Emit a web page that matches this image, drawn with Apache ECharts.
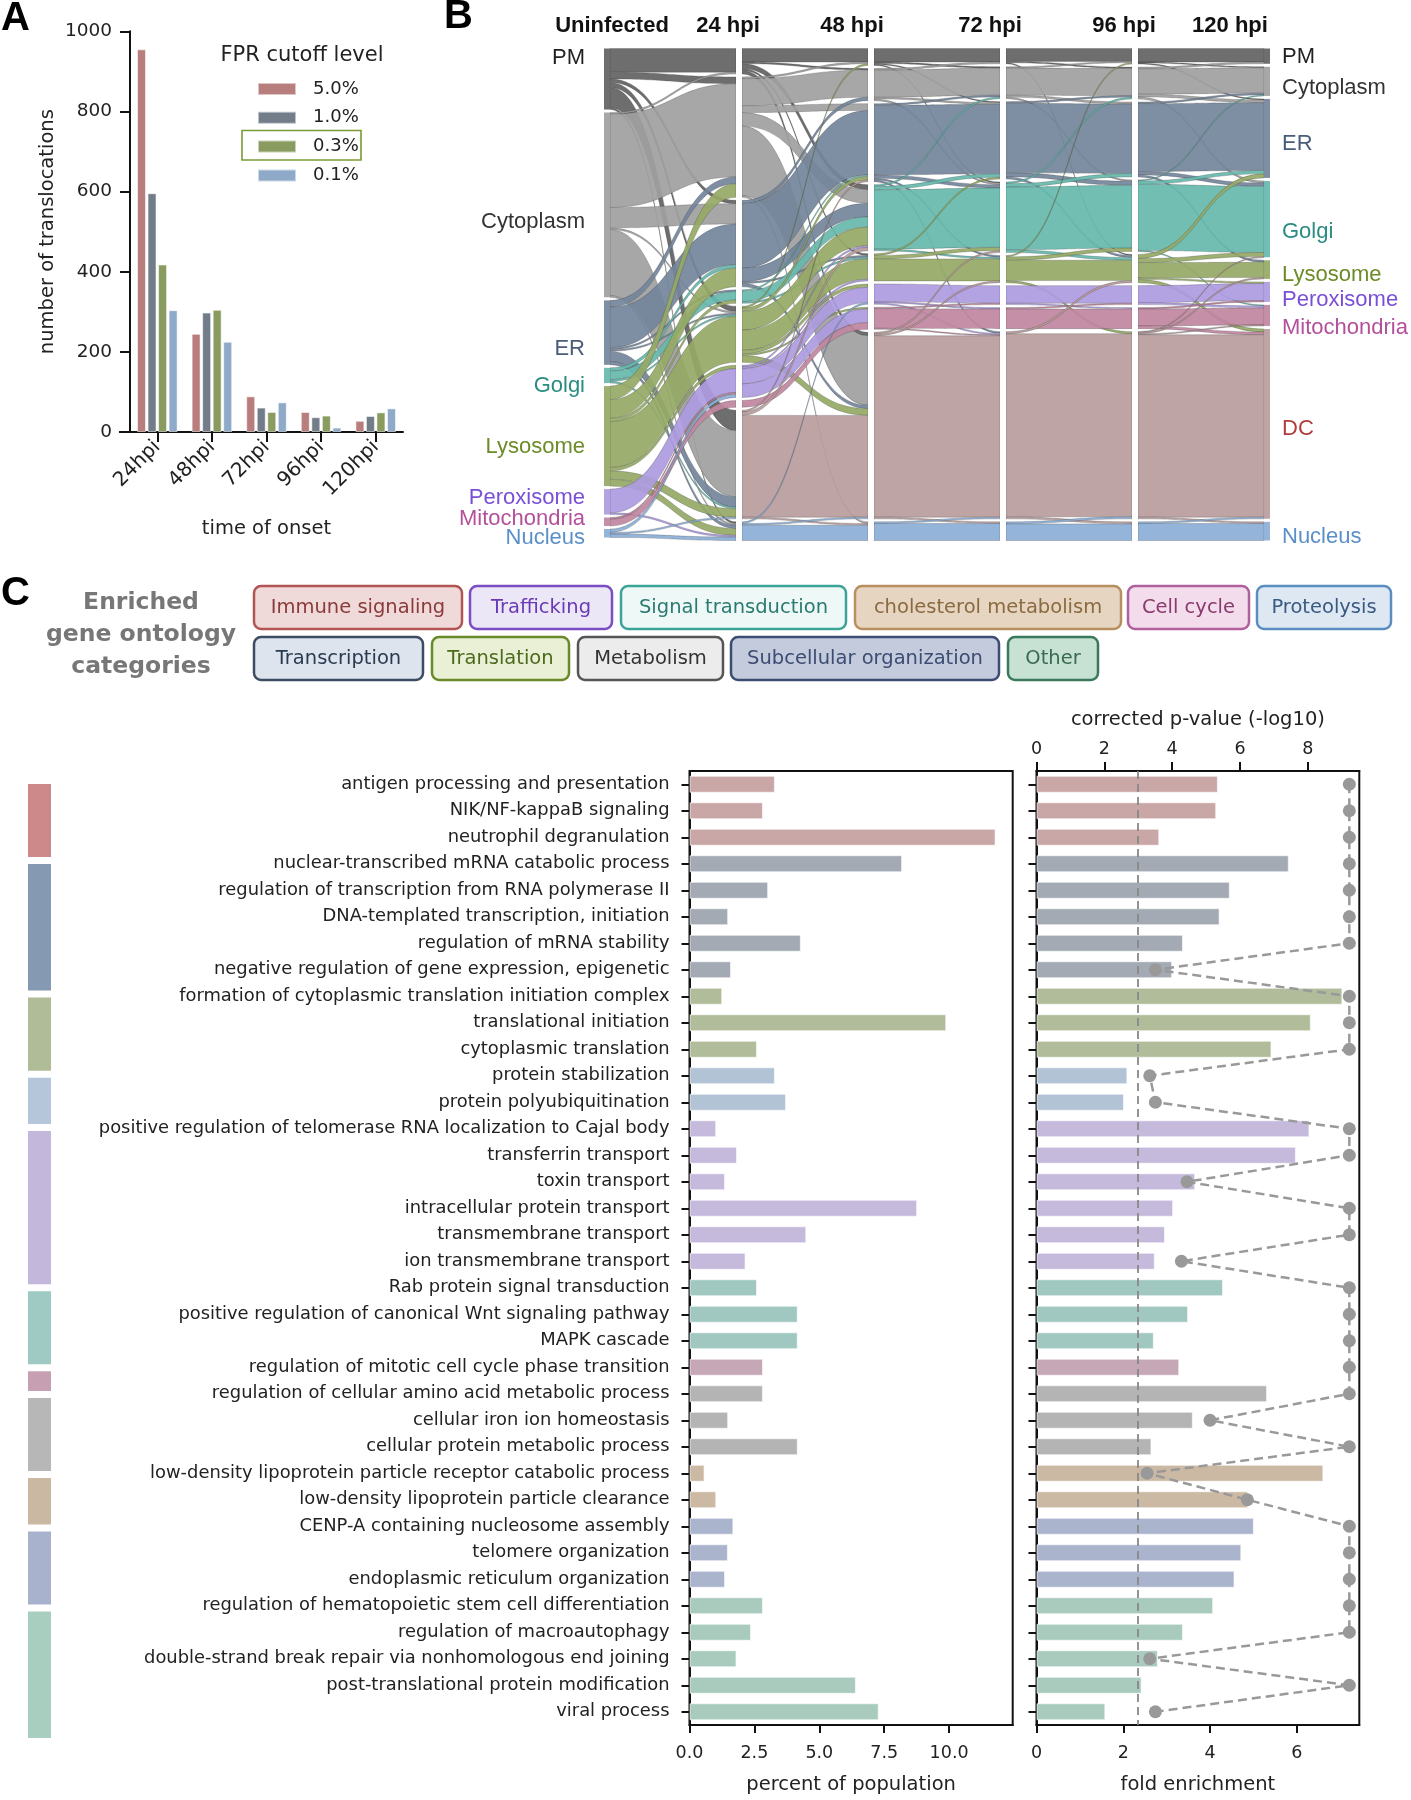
<!DOCTYPE html>
<html><head><meta charset="utf-8">
<script src="https://cdn.jsdelivr.net/npm/echarts@6/dist/echarts.min.js"></script>
<style>html,body{margin:0;padding:0;background:#fff}#c{width:1411px;height:1800px}</style>
</head><body><div id="c"></div><script>
const FONT = "'DejaVu Sans', sans-serif";
const ARIAL = "'Liberation Sans', Arial, sans-serif";

// ---------------- Panel A data ----------------
const onsetCategories = ['24hpi', '48hpi', '72hpi', '96hpi', '120hpi'];
const fprLevels = ['5.0%', '1.0%', '0.3%', '0.1%'];
const fpr50 = [955, 245, 89, 50, 28];
const fpr10 = [596, 298, 61, 37, 40];
const fpr03 = [418, 305, 50, 41, 49];
const fpr01 = [304, 225, 74, 11, 59];
const fprColors = ['#b87e7e', '#737d8a', '#8a9b60', '#8eaac8'];

// ---------------- Panel B data ----------------
const timepoints = ['Uninfected', '24 hpi', '48 hpi', '72 hpi', '96 hpi', '120 hpi'];
const compartments = ['PM', 'Cytoplasm', 'ER', 'Golgi', 'Lysosome', 'Peroxisome', 'Mitochondria', 'DC', 'Nucleus'];
const flowsUninfTo24 = [
  ['PM','PM',70],['PM','Cytoplasm',20],['PM','ER',10],['PM','Lysosome',15],['PM','DC',60],['PM','Nucleus',5],
  ['Cytoplasm','PM',5],['Cytoplasm','Cytoplasm',275],['Cytoplasm','ER',60],['Cytoplasm','Lysosome',5],['Cytoplasm','DC',195],['Cytoplasm','Nucleus',5],
  ['ER','Cytoplasm',20],['ER','ER',120],['ER','Golgi',5],['ER','Lysosome',5],['ER','DC',30],['ER','Nucleus',10],
  ['Golgi','ER',10],['Golgi','Golgi',25],['Golgi','Lysosome',5],['Golgi','DC',5],
  ['Lysosome','Cytoplasm',40],['Lysosome','ER',55],['Lysosome','Golgi',10],['Lysosome','Lysosome',135],['Lysosome','Peroxisome',10],['Lysosome','DC',25],['Lysosome','Nucleus',20],
  ['Peroxisome','Peroxisome',70],['Peroxisome','Nucleus',5],
  ['Mitochondria','Peroxisome',5],['Mitochondria','Mitochondria',20],
  ['Nucleus','Peroxisome',10],['Nucleus','DC',5],['Nucleus','Nucleus',10]
];
const flows24To48 = [
  ['PM','PM',40],['PM','Cytoplasm',5],['PM','Golgi',15],['PM','Lysosome',5],['PM','DC',10],
  ['Cytoplasm','PM',5],['Cytoplasm','Cytoplasm',80],['Cytoplasm','ER',20],['Cytoplasm','Golgi',40],['Cytoplasm','DC',205],['Cytoplasm','Nucleus',5],
  ['ER','Cytoplasm',10],['ER','ER',190],['ER','Golgi',40],['ER','Lysosome',5],['ER','DC',10],
  ['Golgi','ER',5],['Golgi','Golgi',30],['Golgi','Lysosome',5],
  ['Lysosome','PM',5],['Lysosome','ER',10],['Lysosome','Golgi',55],['Lysosome','Lysosome',60],['Lysosome','Peroxisome',10],['Lysosome','Mitochondria',5],['Lysosome','DC',20],
  ['Peroxisome','Golgi',5],['Peroxisome','Lysosome',5],['Peroxisome','Peroxisome',45],['Peroxisome','Mitochondria',40],
  ['Mitochondria','Mitochondria',20],
  ['DC','ER',5],['DC','Golgi',10],['DC','DC',300],['DC','Nucleus',5],
  ['Nucleus','Peroxisome',5],['Nucleus','DC',5],['Nucleus','Nucleus',45]
];
const flows48To72 = [
  ['PM','PM',40],['PM','Cytoplasm',4],['PM','ER',3],['PM','Golgi',3],
  ['Cytoplasm','PM',5],['Cytoplasm','Cytoplasm',80],['Cytoplasm','ER',5],['Cytoplasm','Golgi',5],
  ['ER','Cytoplasm',5],['ER','ER',205],['ER','Golgi',10],['ER','Lysosome',5],['ER','DC',5],
  ['Golgi','Cytoplasm',5],['Golgi','ER',10],['Golgi','Golgi',175],['Golgi','Lysosome',5],
  ['Lysosome','ER',5],['Lysosome','Golgi',10],['Lysosome','Lysosome',65],
  ['Peroxisome','Peroxisome',52],['Peroxisome','Mitochondria',4],['Peroxisome','DC',4],
  ['Mitochondria','Peroxisome',4],['Mitochondria','Mitochondria',58],['Mitochondria','DC',3],
  ['DC','Golgi',5],['DC','Lysosome',5],['DC','DC',535],['DC','Nucleus',5],
  ['Nucleus','DC',5],['Nucleus','Nucleus',50]
];
const flows72To96 = [
  ['PM','PM',38],['PM','Cytoplasm',4],['PM','Lysosome',3],
  ['Cytoplasm','PM',4],['Cytoplasm','Cytoplasm',80],['Cytoplasm','ER',6],['Cytoplasm','Golgi',4],
  ['ER','Cytoplasm',5],['ER','ER',205],['ER','Golgi',12],['ER','Lysosome',6],
  ['Golgi','Cytoplasm',5],['Golgi','ER',10],['Golgi','Golgi',185],['Golgi','Lysosome',8],
  ['Lysosome','PM',4],['Lysosome','Golgi',10],['Lysosome','Lysosome',60],['Lysosome','DC',6],
  ['Peroxisome','Peroxisome',52],['Peroxisome','Mitochondria',4],
  ['Mitochondria','Peroxisome',4],['Mitochondria','Mitochondria',58],
  ['DC','Lysosome',6],['DC','DC',540],['DC','Nucleus',6],
  ['Nucleus','DC',6],['Nucleus','Nucleus',49]
];
const flows96To120 = [
  ['PM','PM',40],['PM','Cytoplasm',3],['PM','ER',3],
  ['Cytoplasm','PM',5],['Cytoplasm','Cytoplasm',75],['Cytoplasm','ER',8],['Cytoplasm','Golgi',6],
  ['ER','Cytoplasm',5],['ER','ER',200],['ER','Golgi',10],['ER','Lysosome',6],
  ['Golgi','Cytoplasm',3],['Golgi','ER',10],['Golgi','Golgi',195],['Golgi','Mitochondria',3],
  ['Lysosome','ER',12],['Lysosome','Golgi',12],['Lysosome','Lysosome',45],['Lysosome','Peroxisome',5],['Lysosome','DC',9],
  ['Peroxisome','Peroxisome',50],['Peroxisome','Mitochondria',6],
  ['Mitochondria','Peroxisome',4],['Mitochondria','Mitochondria',50],['Mitochondria','DC',8],
  ['DC','Golgi',2],['DC','Lysosome',4],['DC','Mitochondria',3],['DC','DC',538],['DC','Nucleus',5],
  ['Nucleus','DC',5],['Nucleus','Nucleus',50]
];
const flowTables = [flowsUninfTo24, flows24To48, flows48To72, flows72To96, flows96To120];
const compartmentFlowColor = {PM:'#626262', Cytoplasm:'#a0a0a0', ER:'#74869b', Golgi:'#66b8ad', Lysosome:'#95a966', Peroxisome:'#ae9be0', Mitochondria:'#c0869f', DC:'#b89c9c', Nucleus:'#8baed6'};
const compartmentLabelColor = {PM:'#222', Cytoplasm:'#333', ER:'#4a5d78', Golgi:'#2a8c82', Lysosome:'#6c8c28', Peroxisome:'#7a4fd6', Mitochondria:'#b4509b', DC:'#b03c3c', Nucleus:'#5a8fc8'};
const leftLabelOffset = {PM:-21, Cytoplasm:17, ER:16, Golgi:11, Lysosome:11, Peroxisome:-4, Mitochondria:-3, Nucleus:5};
const rightLabelOffset = {PM:1, Cytoplasm:7, ER:6, Golgi:13, Lysosome:5, Peroxisome:8, Mitochondria:13, DC:5, Nucleus:6};

// ---------------- Panel C data ----------------
const goTerms = [
  'antigen processing and presentation','NIK/NF-kappaB signaling','neutrophil degranulation',
  'nuclear-transcribed mRNA catabolic process','regulation of transcription from RNA polymerase II',
  'DNA-templated transcription, initiation','regulation of mRNA stability',
  'negative regulation of gene expression, epigenetic','formation of cytoplasmic translation initiation complex',
  'translational initiation','cytoplasmic translation','protein stabilization','protein polyubiquitination',
  'positive regulation of telomerase RNA localization to Cajal body','transferrin transport','toxin transport',
  'intracellular protein transport','transmembrane transport','ion transmembrane transport',
  'Rab protein signal transduction','positive regulation of canonical Wnt signaling pathway','MAPK cascade',
  'regulation of mitotic cell cycle phase transition','regulation of cellular amino acid metabolic process',
  'cellular iron ion homeostasis','cellular protein metabolic process',
  'low-density lipoprotein particle receptor catabolic process','low-density lipoprotein particle clearance',
  'CENP-A containing nucleosome assembly','telomere organization','endoplasmic reticulum organization',
  'regulation of hematopoietic stem cell differentiation','regulation of macroautophagy',
  'double-strand break repair via nonhomologous end joining','post-translational protein modification','viral process'
];
const percentPopulation = [3.29,2.83,11.79,8.19,3.03,1.49,4.29,1.60,1.26,9.89,2.60,3.29,3.72,1.03,1.83,1.37,8.77,4.50,2.16,2.60,4.17,4.17,2.83,2.83,1.49,4.17,0.58,1.03,1.69,1.48,1.37,2.83,2.37,1.81,6.41,7.29];
const pValueLog10 = [5.35,5.30,3.62,7.44,5.70,5.40,4.32,4.00,9.02,8.09,6.93,2.68,2.58,8.05,7.65,4.68,4.03,3.79,3.49,5.50,4.47,3.46,4.21,6.80,4.61,3.39,8.46,6.24,6.41,6.04,5.84,5.21,4.32,3.58,3.10,2.03];
const foldEnrichment = [7.21,7.21,7.21,7.21,7.21,7.21,7.21,2.74,7.21,7.21,7.21,2.61,2.74,7.21,7.21,3.47,7.21,7.21,3.34,7.21,7.21,7.21,7.21,7.21,4.00,7.21,2.55,4.86,7.21,7.21,7.21,7.21,7.21,2.61,7.21,2.74];
const pValueThreshold = 3;
const rowGroupOrder = ['Immune signaling','Transcription','Translation','Proteolysis','Trafficking','Signal transduction','Cell cycle','Metabolism','cholesterol metabolism','Subcellular organization','Other'];
const rowGroupSizes = [3,5,3,2,6,3,1,3,2,3,5];
const legendRow1 = ['Immune signaling','Trafficking','Signal transduction','cholesterol metabolism','Cell cycle','Proteolysis'];
const legendRow2 = ['Transcription','Translation','Metabolism','Subcellular organization','Other'];
const catStyle = {
  'Immune signaling':        {bar:'#c9a7a7', side:'#cd898a', fill:'#f0d9d9', stroke:'#b35454', text:'#8a3a3a'},
  'Trafficking':             {bar:'#c5badc', side:'#c4b7dc', fill:'#ece7f6', stroke:'#7b4dc4', text:'#6a3ab4'},
  'Signal transduction':     {bar:'#a1c7c1', side:'#9fcac4', fill:'#eef8f7', stroke:'#3aa597', text:'#2a7a70'},
  'cholesterol metabolism':  {bar:'#ccb9a4', side:'#cbb8a3', fill:'#e6d5c0', stroke:'#b89060', text:'#8a6a40'},
  'Cell cycle':              {bar:'#c5a7b6', side:'#c69fb3', fill:'#f3dded', stroke:'#b0609c', text:'#8a3a6c'},
  'Proteolysis':             {bar:'#b1c3d5', side:'#b5c6da', fill:'#dee8f3', stroke:'#5b8ec0', text:'#3a5a82'},
  'Transcription':           {bar:'#a3aab4', side:'#8599b3', fill:'#dde4ee', stroke:'#3c4c62', text:'#2a3a50'},
  'Translation':             {bar:'#b1bc9a', side:'#b0bb98', fill:'#e9f0d6', stroke:'#6a8a2a', text:'#4c6a1c'},
  'Metabolism':              {bar:'#b4b4b4', side:'#b7b7b7', fill:'#ececec', stroke:'#555555', text:'#333333'},
  'Subcellular organization':{bar:'#aab4cd', side:'#a8b2cd', fill:'#c4cbdc', stroke:'#3c4c72', text:'#3c4c72'},
  'Other':                   {bar:'#a9cbbd', side:'#a7cebf', fill:'#c7e1d3', stroke:'#3a7a5a', text:'#3a6a50'}
};

// ---------- derived ----------
const rowCategory = [];
rowGroupOrder.forEach((g, gi) => { for (let k = 0; k < rowGroupSizes[gi]; k++) rowCategory.push(g); });
const groupRanges = [];
{ let s = 0; rowGroupSizes.forEach((n, gi) => { groupRanges.push([0, s, s + n - 1, gi]); s += n; }); }

// sankey nodes/links
const nodeSet = [];
for (let t = 0; t < timepoints.length; t++) nodeSet.push(new Set());
flowTables.forEach((tbl, t) => tbl.forEach(([s, d]) => { nodeSet[t].add(s); nodeSet[t + 1].add(d); }));
const sankeyNodes = [];
const lastT = timepoints.length - 1;
for (let t = 0; t <= lastT; t++) {
  compartments.forEach(c => {
    if (!nodeSet[t].has(c)) return;
    const node = {name: c + '@' + t, depth: t};
    if (t === 0 || t === lastT) {
      node.itemStyle = {color: compartmentFlowColor[c], opacity: 0.92, borderWidth: 0};
      node.label = {
        show: true, position: t === 0 ? 'left' : 'right', distance: t === 0 ? 19 : 12,
        formatter: c, color: compartmentLabelColor[c], fontSize: 22, fontFamily: ARIAL,
        offset: [0, t === 0 ? leftLabelOffset[c] : rightLabelOffset[c]]
      };
    } else {
      node.itemStyle = {color: '#ffffff', opacity: 1, borderWidth: 0};
      node.label = {show: false};
    }
    sankeyNodes.push(node);
  });
}
const sankeyLinks = [];
flowTables.forEach((tbl, t) => tbl.forEach(([s, d, v]) => {
  sankeyLinks.push({source: s + '@' + t, target: d + '@' + (t + 1), value: v,
    lineStyle: {color: compartmentFlowColor[s], opacity: 0.92}});
}));

// ---------- graphics ----------
const graphics = [];
graphics.push({type:'text', x:1, y:-1, style:{text:'A', font:'bold 40px ' + ARIAL, fill:'#000'}});
graphics.push({type:'text', x:444, y:-3, style:{text:'B', font:'bold 40px ' + ARIAL, fill:'#000'}});
graphics.push({type:'text', x:1, y:574, style:{text:'C', font:'bold 40px ' + ARIAL, fill:'#000'}});
graphics.push({type:'text', x:302, y:56, style:{text:'FPR cutoff level', font:'21px ' + FONT, fill:'#222', align:'center', verticalAlign:'middle'}});
graphics.push({type:'rect', shape:{x:242, y:130.5, width:119, height:29.5}, style:{fill:'none', stroke:'#7a9a35', lineWidth:1.6}});
graphics.push({type:'line', shape:{x1:119, y1:432, x2:131, y2:432}, style:{stroke:'#111', lineWidth:2}});
const headerX = [612, 728, 852, 990, 1124, 1230];
timepoints.forEach((tp, i) => graphics.push({type:'text', x:headerX[i], y:26,
  style:{text: tp, font:'bold 22px ' + ARIAL, fill:'#111', align:'center', verticalAlign:'middle'}}));
graphics.push({type:'text', x:141, y:635, style:{text:'Enriched\ngene ontology\ncategories', font:'bold 23.5px ' + FONT, fill:'#777', align:'center', verticalAlign:'middle', lineHeight:32}});
const row1Boxes = [[254,208],[470,142],[621,225],[855,266],[1128,121],[1257,134]];
const row2Boxes = [[254,169],[432,137],[578,145],[731,268],[1008,90]];
function addBox(name, x, w, y) {
  const st = catStyle[name];
  graphics.push({type:'rect', shape:{x:x, y:y, width:w, height:43, r:7}, style:{fill:st.fill, stroke:st.stroke, lineWidth:2.5}});
  graphics.push({type:'text', x:x + w / 2, y:y + 22, style:{text:name, font:'19.5px ' + FONT, fill:st.text, align:'center', verticalAlign:'middle'}});
}
legendRow1.forEach((n, i) => addBox(n, row1Boxes[i][0], row1Boxes[i][1], 586));
legendRow2.forEach((n, i) => addBox(n, row2Boxes[i][0], row2Boxes[i][1], 637));

const axisLineStyle = {show:true, lineStyle:{color:'#111', width:2}};
const tickStyle = (len) => ({show:true, length:len, lineStyle:{color:'#111', width:2}});
const labelStyle = (fs) => ({fontSize:fs, color:'#222', fontFamily:FONT});

const option = {
  animation: false,
  backgroundColor: '#fff',
  textStyle: {fontFamily: FONT},
  graphic: graphics,
  legend: {
    data: fprLevels, orient:'vertical', left:252, top:74, itemWidth:38, itemHeight:12, itemGap:8.8,
    icon:'rect', selectedMode:false,
    textStyle:{fontSize:18, color:'#222', fontFamily:FONT, padding:[0,0,0,12], lineHeight:20}
  },
  grid: [
    {left:130, top:31.3, width:273, height:400.7},
    {left:689.5, top:771, width:323.2, height:962.5, show:true, borderColor:'#111', borderWidth:2},
    {left:1036.5, top:771, width:322.8, height:962.5, show:true, borderColor:'#111', borderWidth:2},
    {left:28, top:780.5, width:23, height:961}
  ],
  xAxis: [
    {gridIndex:0, type:'category', data:onsetCategories, axisLine:axisLineStyle,
     axisTick:{show:true, length:10, alignWithLabel:true, lineStyle:{color:'#111', width:2}},
     axisLabel:Object.assign(labelStyle(20), {rotate:45, margin:12}),
     name:'time of onset', nameLocation:'middle', nameGap:87,
     nameTextStyle:{fontSize:19.5, color:'#222', fontFamily:FONT}},
    {gridIndex:1, type:'value', min:0, max:12.45, interval:2.5, axisLine:axisLineStyle, axisTick:tickStyle(8),
     splitLine:{show:false}, axisLabel:Object.assign(labelStyle(17.5), {margin:19, showMaxLabel:false,
       formatter: v => v > 10.01 ? '' : v.toFixed(1)}),
     name:'percent of population', nameLocation:'middle', nameGap:50,
     nameTextStyle:{fontSize:19.5, color:'#222', fontFamily:FONT}},
    {gridIndex:2, type:'value', position:'top', min:0, max:9.52, interval:2, axisLine:axisLineStyle, axisTick:tickStyle(9),
     splitLine:{show:false}, axisLabel:Object.assign(labelStyle(17.5), {margin:13, showMaxLabel:false,
       formatter: v => v > 8.01 ? '' : String(v)}),
     name:'corrected p-value (-log10)', nameLocation:'middle', nameGap:41,
     nameTextStyle:{fontSize:19.5, color:'#222', fontFamily:FONT}},
    {gridIndex:2, type:'value', position:'bottom', min:0, max:7.44, interval:2, axisLine:axisLineStyle, axisTick:tickStyle(8),
     splitLine:{show:false}, axisLabel:Object.assign(labelStyle(17.5), {margin:19, showMaxLabel:false,
       formatter: v => v > 6.01 ? '' : String(v)}),
     name:'fold enrichment', nameLocation:'middle', nameGap:50,
     nameTextStyle:{fontSize:19.5, color:'#222', fontFamily:FONT}},
    {gridIndex:3, type:'value', min:0, max:1, show:false}
  ],
  yAxis: [
    {gridIndex:0, type:'value', min:0, max:1000, interval:200, axisLine:axisLineStyle, axisTick:tickStyle(10),
     splitLine:{show:false}, axisLabel:Object.assign(labelStyle(18.5), {margin:18, formatter: v => String(v)}),
     name:'number of translocations', nameLocation:'middle', nameGap:72,
     nameTextStyle:{fontSize:19.5, color:'#222', fontFamily:FONT}},
    {gridIndex:1, type:'category', data:goTerms, inverse:true, axisLine:axisLineStyle,
     axisTick:{show:true, length:8, alignWithLabel:true, lineStyle:{color:'#111', width:2}},
     axisLabel:Object.assign(labelStyle(17.9), {interval:0, margin:20})},
    {gridIndex:2, type:'category', data:goTerms, inverse:true, axisLine:axisLineStyle,
     axisTick:{show:true, length:8, alignWithLabel:true, lineStyle:{color:'#111', width:2}},
     axisLabel:{show:false}},
    {gridIndex:3, type:'category', data:goTerms, inverse:true, show:false}
  ],
  series: [
    ...[fpr50, fpr10, fpr03, fpr01].map((arr, i) => ({
      type:'bar', name:fprLevels[i], xAxisIndex:0, yAxisIndex:0, data:arr, barWidth:9, barGap:'17%',
      itemStyle:{color:fprColors[i], borderColor:'rgba(255,255,255,0.55)', borderWidth:1}
    })),
    {
      type:'sankey', left:604, top:48.5, width:666, height:492, nodeWidth:6, nodeGap:3,
      layoutIterations:0, draggable:false, nodeAlign:'justify',
      data:sankeyNodes, links:sankeyLinks,
      itemStyle:{borderWidth:0},
      lineStyle:{curveness:0.5, borderColor:'rgba(40,40,40,0.35)', borderWidth:0.7},
      label:{show:false}, emphasis:{disabled:true}
    },
    {
      type:'bar', xAxisIndex:1, yAxisIndex:1, barWidth:17,
      data: percentPopulation.map((v, i) => ({value:v, itemStyle:{color:catStyle[rowCategory[i]].bar}})),
      itemStyle:{borderColor:'rgba(255,255,255,0.6)', borderWidth:1}
    },
    {
      type:'bar', xAxisIndex:2, yAxisIndex:2, barWidth:17,
      data: pValueLog10.map((v, i) => ({value:v, itemStyle:{color:catStyle[rowCategory[i]].bar}})),
      itemStyle:{borderColor:'rgba(255,255,255,0.6)', borderWidth:1},
      markLine:{silent:true, symbol:'none', label:{show:false},
        lineStyle:{color:'#888', type:[8,5], width:1.8}, data:[{xAxis:pValueThreshold}]}
    },
    {
      type:'line', xAxisIndex:3, yAxisIndex:2, z:5,
      data: foldEnrichment.map((v, i) => [v, goTerms[i]]),
      symbol:'circle', symbolSize:13, itemStyle:{color:'#999'},
      lineStyle:{color:'#999', width:2.5, type:[9,5]}
    },
    {
      type:'custom', xAxisIndex:4, yAxisIndex:3, data: groupRanges, encode:{x:0, y:1},
      renderItem: (params, api) => {
        const s = api.value(1), e = api.value(2), gi = api.value(3);
        const band = api.size([0, 1])[1];
        const p0 = api.coord([0, s]), p1 = api.coord([1, e]);
        const y0 = p0[1] - band / 2 + 3.5, y1 = p1[1] + band / 2 - 3.5;
        return {type:'rect', shape:{x:p0[0], y:y0, width:p1[0] - p0[0], height:y1 - y0},
          style:{fill: catStyle[rowGroupOrder[gi]].side}};
      }
    }
  ]
};
const chart = echarts.init(document.getElementById('c'), null, {renderer:'canvas'});
chart.setOption(option);
</script></body></html>
